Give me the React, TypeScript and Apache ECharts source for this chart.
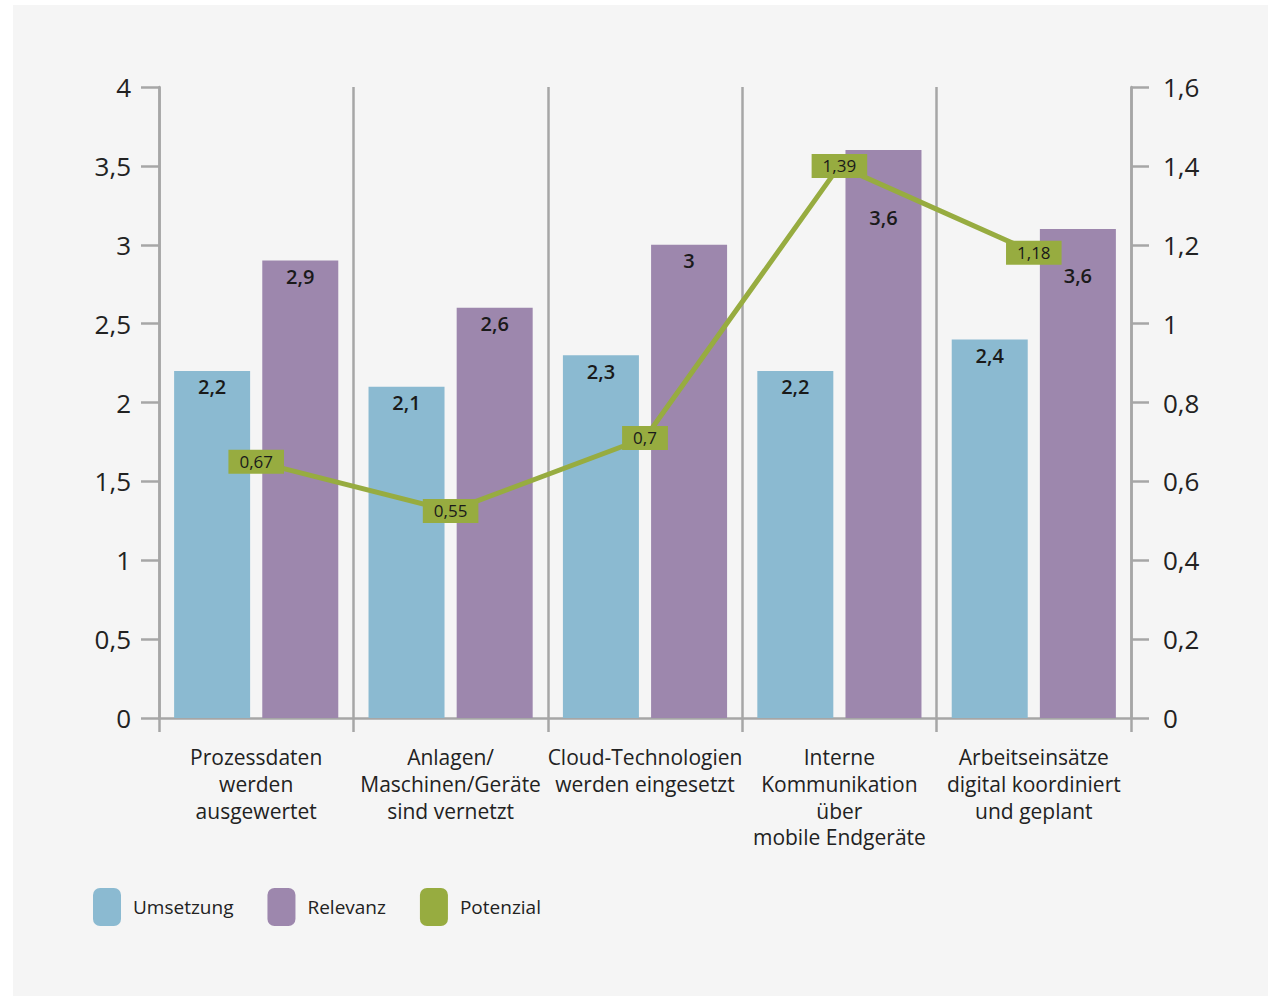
import React, { useEffect, useRef } from "react";
import * as echarts from "echarts";

const categories = [
  "Prozessdaten\nwerden\nausgewertet",
  "Anlagen/\nMaschinen/Geräte\nsind vernetzt",
  "Cloud-Technologien\nwerden eingesetzt",
  "Interne\nKommunikation\nüber\nmobile Endgeräte",
  "Arbeitseinsätze\ndigital koordiniert\nund geplant",
];
const umsetzung = [2.2, 2.1, 2.3, 2.2, 2.4];
const umsetzungLabels = ["2,2", "2,1", "2,3", "2,2", "2,4"];
const relevanz = [2.9, 2.6, 3.0, 3.6, 3.1];
const relevanzLabels = ["2,9", "2,6", "3", "3,6", "3,6"];
const potenzial = [0.65, 0.525, 0.71, 1.4, 1.18];
const potenzialLabels = ["0,67", "0,55", "0,7", "1,39", "1,18"];

// label placement inside the Relevanz bars (px from bar top), styling only
const relevanzLabelDistance = [6, 6, 6, 57, 37];

const FONT = "'Open Sans', 'Noto Sans', sans-serif";
const BLUE = "#8bbad1";
const PURPLE = "#9d87ad";
const GREEN = "#97ac40";
const AXIS = "#a6a6a6";
const TEXT = "#222222";

export default function App() {
  const ref = useRef<HTMLDivElement>(null);
  useEffect(() => {
    if (!ref.current) return;
    const chart = echarts.init(ref.current, null, { renderer: "svg" });
    const barLabel = {
      show: true,
      position: "insideTop",
      distance: 6,
      fontSize: 20,
      fontWeight: 600,
      color: "#1a1a1a",
      fontFamily: FONT,
    };
    chart.setOption({
      animation: false,
      backgroundColor: "#ffffff",
      textStyle: { fontFamily: FONT },
      graphic: [
        {
          type: "rect",
          z: -10,
          silent: true,
          shape: { x: 13, y: 5, width: 1255, height: 991 },
          style: { fill: "#f5f5f5" },
        },
      ],
      grid: { left: 159, right: 137, top: 87, bottom: 278, containLabel: false },
      legend: {
        left: 93,
        top: 888,
        padding: 0,
        itemWidth: 28,
        itemHeight: 38,
        itemGap: 34,
        icon: "roundRect",
        textStyle: { fontSize: 19, color: TEXT, fontFamily: FONT, padding: [0, 0, 0, 7] },
        data: [
          { name: "Umsetzung", icon: "roundRect" },
          { name: "Relevanz", icon: "roundRect" },
          { name: "Potenzial", icon: "roundRect", itemStyle: { color: GREEN } },
        ],
      },
      xAxis: {
        type: "category",
        data: categories,
        boundaryGap: true,
        axisLine: { show: true, lineStyle: { color: AXIS, width: 2.5 } },
        axisTick: { show: true, length: 14, interval: 0, lineStyle: { color: AXIS, width: 2.5 } },
        splitLine: { show: true, interval: 0, lineStyle: { color: AXIS, width: 2.5 } },
        axisLabel: {
          interval: 0,
          margin: 26,
          fontSize: 21,
          lineHeight: 26.6,
          color: TEXT,
          fontFamily: FONT,
        },
      },
      yAxis: [
        {
          type: "value",
          min: 0,
          max: 4,
          interval: 0.5,
          position: "left",
          axisLine: { show: true, lineStyle: { color: AXIS, width: 2.5 } },
          axisTick: { show: true, length: 18, lineStyle: { color: AXIS, width: 2.5 } },
          splitLine: { show: false },
          axisLabel: {
            margin: 28,
            fontSize: 26,
            color: TEXT,
            fontFamily: FONT,
            formatter: (v: number) => String(v).replace(".", ","),
          },
        },
        {
          type: "value",
          min: 0,
          max: 1.6,
          interval: 0.2,
          position: "right",
          axisLine: { show: true, lineStyle: { color: AXIS, width: 2.5 } },
          axisTick: { show: true, length: 18, lineStyle: { color: AXIS, width: 2.5 } },
          splitLine: { show: false },
          axisLabel: {
            margin: 32,
            fontSize: 26,
            color: TEXT,
            fontFamily: FONT,
            formatter: (v: number) => String(Math.round(v * 10) / 10).replace(".", ","),
          },
        },
      ],
      series: [
        {
          name: "Umsetzung",
          type: "bar",
          data: umsetzung,
          barWidth: 76,
          barGap: "16%",
          itemStyle: { color: BLUE },
          label: { ...barLabel, formatter: (p: any) => umsetzungLabels[p.dataIndex] },
        },
        {
          name: "Relevanz",
          type: "bar",
          data: relevanz.map((v, i) => ({
            value: v,
            label: { distance: relevanzLabelDistance[i] },
          })),
          barWidth: 76,
          barGap: "16%",
          itemStyle: { color: PURPLE },
          label: { ...barLabel, formatter: (p: any) => relevanzLabels[p.dataIndex] },
        },
        {
          name: "Potenzial",
          type: "line",
          yAxisIndex: 1,
          data: potenzial,
          symbol: "circle",
          showSymbol: true,
          symbolSize: 2,
          lineStyle: { color: GREEN, width: 5 },
          itemStyle: { color: GREEN },
          z: 5,
          label: {
            show: true,
            position: "inside",
            fontSize: 17,
            color: "#1a1a1a",
            fontFamily: FONT,
            backgroundColor: GREEN,
            padding: [4, 11, 3, 11],
            formatter: (p: any) => potenzialLabels[p.dataIndex],
          },
        },
      ],
    });
    return () => chart.dispose();
  }, []);
  return (
    <div
      ref={ref}
      style={{ position: "absolute", left: 0, top: 0, width: 1268, height: 996 }}
    />
  );
}
